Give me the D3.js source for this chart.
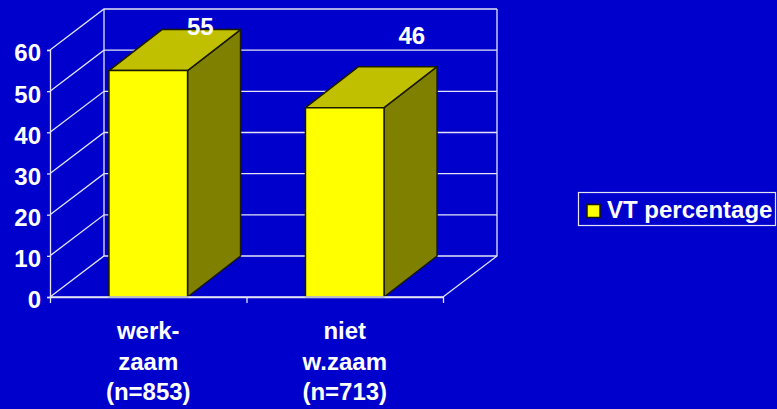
<!DOCTYPE html>
<html><head><meta charset="utf-8">
<script src="https://cdn.jsdelivr.net/npm/d3@7"></script>
<style>
html,body{margin:0;padding:0;background:#0000CC;overflow:hidden}
svg{display:block}
text{font-family:"Liberation Sans",Arial,sans-serif;font-weight:bold;fill:#fff}
</style></head><body>
<svg id="c" width="777" height="409"></svg>
<script>
const categories = ["werk-|zaam|(n=853)", "niet|w.zaam|(n=713)"];
const seriesName = "VT percentage";
const values = [55, 46];
const yTicks = [0, 10, 20, 30, 40, 50, 60];

const W = 777, H = 409;
const left = 50, right = 443, base = 297, top60 = 50;
const dx = 54, dy = -41;
const gridCol = "#E4E4F6";
const fs = 24;

const svg = d3.select("#c");
svg.append("rect").attr("width", W).attr("height", H).attr("fill", "#0000CC");

const y = d3.scaleLinear().domain([0, 60]).range([base, top60]);
const x = d3.scaleBand().domain(categories).range([left, right]).paddingInner(0.6).paddingOuter(0.3);

// walls and gridlines
const g = svg.append("g").attr("fill", "none").attr("stroke", gridCol).attr("stroke-width", 1.3);
yTicks.forEach(t => {
  g.append("path").attr("d", `M${left},${y(t)}L${left + dx},${y(t) + dy}L${right + dx},${y(t) + dy}`);
});
g.append("path").attr("d", `M${left + dx},${y(60) + dy}V${y(0) + dy}`);
g.append("path").attr("d", `M${right + dx},${y(60) + dy}V${y(0) + dy}L${right},${base}`);

// axes
const axisY = d3.axisLeft(y).tickValues(yTicks).tickSize(3).tickPadding(6);
const ay = svg.append("g").attr("transform", `translate(${left},0)`).call(axisY);
ay.select(".domain").attr("stroke", gridCol).attr("stroke-width", 1.3);
ay.selectAll(".tick line").attr("stroke", gridCol).attr("stroke-width", 1.3);
ay.selectAll("text").attr("font-size", fs).attr("font-family", '"Liberation Sans"').attr("font-weight", "bold")
  .attr("fill", "#fff").attr("dy", "0.35em").attr("transform", "translate(0,2.5)");

const catTicks = d3.scalePoint().domain([0, 1, 2]).range([left, right]);
const ax = svg.append("g").attr("transform", `translate(0,${base})`)
  .call(d3.axisBottom(catTicks).tickSize(6).tickSizeOuter(0).tickFormat(""));
ax.select(".domain").attr("stroke", gridCol).attr("stroke-width", 1.5);
ax.selectAll(".tick line").attr("stroke", gridCol).attr("stroke-width", 1.3);

// bars
const bars = svg.selectAll("g.bar").data(categories.map((c, i) => ({ c, v: values[i], i }))).join("g").attr("class", "bar")
  .attr("stroke", "#1a1a00").attr("stroke-width", 1.5).attr("stroke-linejoin", "round");
bars.append("path").attr("fill", "#808000").attr("d", d => {
  const x1 = x(d.c) + x.bandwidth();
  return `M${x1},${y(d.v)}l${dx - 1},${dy}V${base + dy}L${x1},${base}Z`;
});
bars.append("path").attr("fill", "#C0C000").attr("d", d => {
  const x0 = x(d.c), x1 = x0 + x.bandwidth();
  return `M${x0},${y(d.v)}l${dx - 1},${dy}H${x1 + dx - 1}L${x1},${y(d.v)}Z`;
});
bars.append("rect").attr("fill", "#FFFF00")
  .attr("x", d => x(d.c)).attr("y", d => y(d.v))
  .attr("width", x.bandwidth()).attr("height", d => base - y(d.v));

// floor line redrawn across the bars' feet
svg.append("line").attr("x1", left).attr("x2", right).attr("y1", base).attr("y2", base)
  .attr("stroke", gridCol).attr("stroke-width", 1.5);

// value labels
svg.selectAll("text.val").data(values).join("text").attr("class", "val")
  .attr("text-anchor", "middle").attr("font-size", fs)
  .attr("x", (v, i) => x(categories[i]) + x.bandwidth() / 2 + dx - 1 + (i === 0 ? -1 : 14))
  .attr("y", (v, i) => y(v) + dy + (i === 0 ? 5 : -23))
  .text(v => v);

// category labels
categories.forEach(c => {
  const t = svg.append("text").attr("text-anchor", "middle").attr("font-size", fs);
  c.split("|").forEach((line, i) => {
    t.append("tspan").attr("x", x(c) + x.bandwidth() / 2).attr("y", 339 + i * 30.5).text(line);
  });
});

// legend
const lg = svg.append("g");
lg.append("rect").attr("x", 578.5).attr("y", 192.5).attr("width", 197).attr("height", 33)
  .attr("fill", "#0000CC").attr("stroke", gridCol).attr("stroke-width", 1.2);
lg.append("rect").attr("x", 587).attr("y", 204.5).attr("width", 13).attr("height", 13)
  .attr("fill", "#FFFF00").attr("stroke", "#1a1a00").attr("stroke-width", 1.5);
lg.append("text").attr("x", 607).attr("y", 218).attr("font-size", fs).text(seriesName);
</script>
</body></html>
